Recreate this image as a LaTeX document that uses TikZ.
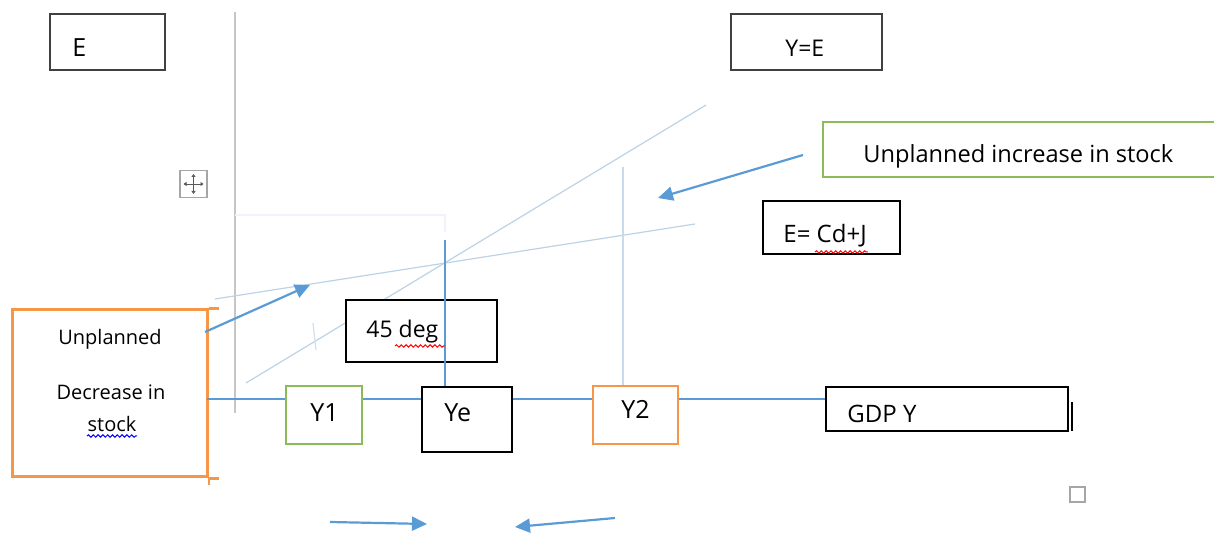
\documentclass[tikz,border=0pt]{standalone}
\usepackage{fontspec}
\setmainfont{Open Sans}
\usetikzlibrary{arrows.meta,positioning,calc,decorations.pathmorphing}

\definecolor{offblue}{HTML}{5B9BD5}
\definecolor{paleblue}{HTML}{BCD2E6}
\definecolor{offorange}{HTML}{F79646}
\definecolor{offgreen}{HTML}{8DBB5A}

\begin{document}
\begin{tikzpicture}[x=0.5pt, y=-0.5pt, font=\fontsize{11.5}{14}\selectfont,
	box/.style={draw, line width=0.8pt, inner sep=0pt},
	lbl/.style={inner sep=0pt, anchor=base west},
	arr/.style={-{Triangle[length=7.5pt,width=7pt]}, offblue, line width=1.1pt},
	guide/.style={paleblue, line width=0.6pt},
	squig/.style={decorate, decoration={snake, amplitude=0.6pt, segment length=2.4pt}, line width=0.5pt}]
	\useasboundingbox (0,0) rectangle (1214,533);

	% axes of the diagram
	\draw[gray!45, line width=1.2pt] (235,12) -- (235,413);
	\draw[blue!5, line width=1pt] (235,215) -- (445,215) -- (445,232);
	\draw[guide] (246,383) coordinate (d0) -- (706,105) coordinate (d1);
	\draw[guide] (215,299) coordinate (e0) -- (695,224) coordinate (e1);
	\draw[guide, paleblue!80] (623,167) -- (623,395);
	\draw[guide, paleblue!70] (313,323) -- (316,350);

	% boxes
	\node[box, draw=black!75, minimum width=57.5pt, minimum height=28pt] (Ebox) at (107.5,42) {};
	\node[lbl, font=\fontsize{12.5}{14}\selectfont] at (72,57) {E};
	\node[box, draw=black!75, minimum width=75.5pt, minimum height=28pt] (YE) at (806.5,42) {};
	\node[lbl] at (785,57) {Y=E};
	\node[lbl, font=\fontsize{11.8}{14}\selectfont] (inc) at (863,163) {Unplanned increase in stock};
	\draw[offgreen, line width=1pt] (1214,122) -- (823,122) -- (823,177) -- (1214,177);
	\node[box, minimum width=68.5pt, minimum height=26.5pt] (Ebox2) at (831.5,227.5) {};
	\node[lbl, font=\fontsize{12}{14}\selectfont] (cdj) at (783,243) {E= Cd+J};
	\node[box, fill=white, minimum width=75.5pt, minimum height=31pt] (deg) at (421.5,331) {};
	\node[lbl] at (366,338) {45 deg};

	\node[draw=offorange, line width=1.5pt, inner sep=0pt, minimum width=97.5pt, minimum height=83.5pt] (dec) at (109.5,393.5) {};
	\draw[offorange, line width=1.5pt] (dec.north east) -- ++(10,0);
	\draw[offorange, line width=1.5pt] (dec.south east) -- ++(10,0);
	\draw[offorange, line width=1pt] (dec.south east) -- ++(0,6);
	\node[font=\fontsize{10}{14}\selectfont, inner sep=0pt, anchor=base] at (110,345) {Unplanned};
	\node[font=\fontsize{10}{14}\selectfont, inner sep=0pt, anchor=base] at (111,400) {Decrease in};
	\node[font=\fontsize{10}{14}\selectfont, inner sep=0pt, anchor=base] at (112,432) {stock};

	% income axis
	\node[box, minimum width=121pt, minimum height=22pt] (gdp) at (947,409) {};
	\coordinate (ax0) at (207,399);
	\draw[offblue, line width=0.8pt] (ax0) -- (ax0 -| gdp.west);
	\draw[offblue, line width=0.8pt] (445,240) -- (445,393);
	\node[box, draw=offgreen, fill=white, minimum width=38pt, minimum height=29pt] (y1) at (324,415) {};
	\node[box, fill=white, minimum width=45pt, minimum height=32.5pt] (ye) at (467,419.5) {};
	\node[box, draw=offorange, fill=white, minimum width=42.5pt, minimum height=29pt] (y2) at (635.5,415) {};
	\node[lbl, font=\fontsize{12.5}{14}\selectfont] at (310,422) {Y1};
	\node[lbl, font=\fontsize{12.5}{14}\selectfont] at (444,422) {Ye};
	\node[lbl, font=\fontsize{12.5}{14}\selectfont] at (621,419) {Y2};
	\node[lbl, font=\fontsize{12}{14}\selectfont] at (847,423) {GDP Y};
	\draw[black, line width=1pt] (1072,402) -- (1072,431);

	% spelling marks
	\draw[squig, red] (395,346) -- (445,346);
	\draw[squig, red] (815,252) -- (868,252);
	\draw[squig, blue] (87,436) -- (137,436);

	% arrows
	\coordinate (a0) at (205,332); \coordinate (a1) at (310,285);
	\coordinate (b0) at (803,155); \coordinate (b1) at (658,198);
	\coordinate (c0) at (330,522); \coordinate (c1) at (427,524);
	\coordinate (f0) at (615,518); \coordinate (f1) at (515,527);
	\draw[arr] (a0) -- (a1);
	\draw[arr] (b0) -- (b1);
	\draw[arr] (c0) -- (c1);
	\draw[arr] (f0) -- (f1);

	% handles
	\node[draw=gray!70, line width=0.6pt, inner sep=0pt, minimum size=13.5pt] (mv) at (193.5,184) {};
	\draw[{Triangle[length=1.5pt,width=2pt]}-{Triangle[length=1.5pt,width=2pt]}, gray!70!black, line width=0.4pt] ([xshift=-5pt]mv.center) -- ([xshift=5pt]mv.center);
	\draw[{Triangle[length=1.5pt,width=2pt]}-{Triangle[length=1.5pt,width=2pt]}, gray!70!black, line width=0.4pt] ([yshift=-5pt]mv.center) -- ([yshift=5pt]mv.center);
	\node[draw=gray!70, line width=0.7pt, inner sep=0pt, minimum size=7.5pt] (sq) at (1077.5,494.5) {};
\end{tikzpicture}
\end{document}
